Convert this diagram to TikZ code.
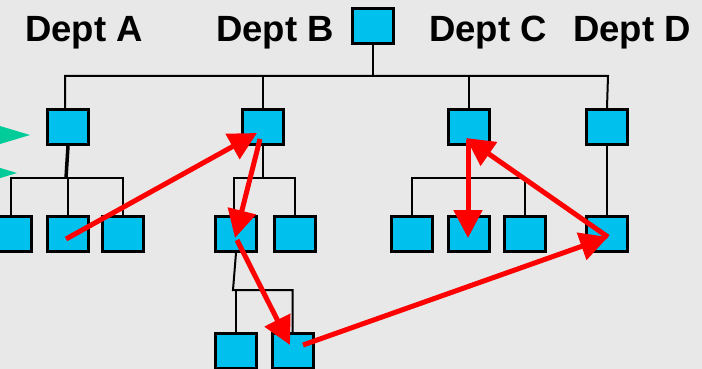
\documentclass[tikz,border=0pt]{standalone}
\usepackage{fontspec}
\setmainfont{Liberation Sans}
\usetikzlibrary{arrows.meta}
\definecolor{bg}{RGB}{232,232,232}
\definecolor{boxfill}{RGB}{0,192,238}
\definecolor{tealg}{RGB}{0,204,153}
\definecolor{arrred}{RGB}{255,0,0}
\tikzset{
  unit/.style={draw=black, fill=boxfill, line width=3pt, minimum width=41pt, minimum height=35pt, inner sep=0pt},
  link/.style={draw=black, line width=2pt},
  flow/.style={draw=arrred, line width=5pt, -{Triangle[length=28pt,width=28pt]}},
  dept/.style={font=\fontsize{36.5}{40}\selectfont\bfseries, anchor=base, inner sep=0pt},
  marker/.style={fill=tealg, draw=none}
}
\begin{document}
\begin{tikzpicture}[x=1pt,y=-1pt]
\fill[bg] (0,0) rectangle (702,369);
\useasboundingbox (0,0) rectangle (702,369);
% green markers
\fill[marker] (30,135) -- (-30,117) -- (-30,153) -- cycle;
\fill[marker] (17,173) -- (-43,155) -- (-43,191) -- cycle;
% labels
\node[dept] (la) at (84,42) {Dept A};
\node[dept] (lb) at (275,42) {Dept B};
\node[dept] (lc) at (488,42) {Dept C};
\node[dept] (ld) at (632,42) {Dept D};
% boxes (positions)
\node[unit] (root) at (372.5,26.5) {};
\node[unit] (A) at (68,127) {};
\node[unit] (B) at (263,127) {};
\node[unit] (C) at (468.5,127) {};
\node[unit] (D) at (607,127) {};
\node[unit] (a1) at (11,234) {};
\node[unit] (a2) at (68,234) {};
\node[unit] (a3) at (122.5,234) {};
\node[unit] (b1) at (236,234) {};
\node[unit] (b2) at (295,234) {};
\node[unit] (c1) at (412,234) {};
\node[unit] (c2) at (468.5,234) {};
\node[unit] (c3) at (524.5,234) {};
\node[unit] (d1) at (607,234) {};
\node[unit] (s1) at (236,351) {};
\node[unit] (s2) at (292.5,351) {};
% connectors
\path[link] (root.south) -- (root.south |- 0,76);
\path[link] ([xshift=-3pt]A.north) -- ++(0,-32) -- (608,76) -- (D.north);
\path[link] (B.north) -- (B.north |- 0,76);
\path[link] (C.north) -- (C.north |- 0,76);
\draw[line width=3.5pt] (A.south) -- (66,178);
\path[link] (a1.north) -- (a1.north |- 0,178) -- (a3.north |- 0,178) -- (a3.north);
\path[link] (a2.north) -- (a2.north |- 0,178);
\path[link] (B.south) -- (B.south |- 0,178);
\path[link] ([xshift=-2pt]b1.north) -- (234,178) -- (b2.north |- 0,178) -- (b2.north);
\path[link] (C.south) -- (C.south |- 0,178);
\path[link] (c1.north) -- (c1.north |- 0,178) -- (c3.north |- 0,178) -- (c3.north);
\path[link] (c2.north) -- (c2.north |- 0,178);
\path[link] (D.south) -- (d1.north);
\path[link] (b1.south) -- (233,290) -- (s2.north |- 0,290) -- (s2.north);
\path[link] (s1.north) -- (s1.north |- 0,290);
% redraw boxes on top of connectors
\foreach \n in {root,A,B,C,D,a1,a2,a3,b1,b2,c1,c2,c3,d1,s1,s2}{
  \node[unit] at (\n) {};
}
% red flow arrows
\coordinate (f0) at (66,239);
\coordinate (f1) at (257,133);
\coordinate (f1s) at (260,139);
\coordinate (f2) at (235,238);
\coordinate (f2s) at (237,240);
\coordinate (f3) at (290,345);
\coordinate (f3s) at (303,345);
\coordinate (f4) at (608,237);
\coordinate (f5) at (466,138);
\coordinate (f5s) at (468,140);
\coordinate (f6) at (468,238);
\draw[flow] (f0) -- (f1);
\draw[flow] (f1s) -- (f2);
\draw[flow] (f2s) -- (f3);
\draw[flow] (f3s) -- (f4);
\draw[flow] (f4) -- (f5);
\draw[flow] (f5s) -- (f6);
\end{tikzpicture}
\end{document}
